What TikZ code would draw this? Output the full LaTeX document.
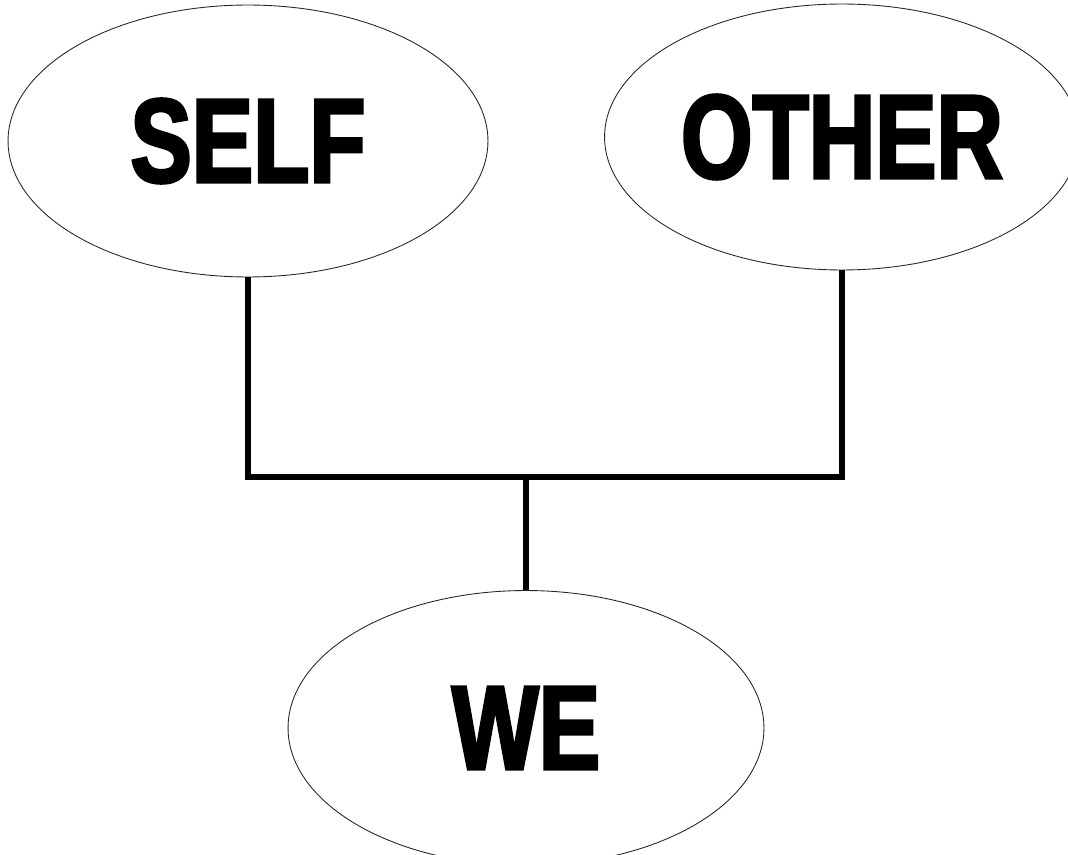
\documentclass[tikz,border=0pt]{standalone}
\usepackage{fontspec}
\newfontfamily\blockfont[FakeStretch=0.77, FakeBold=2.5]{Liberation Sans}
\usepackage{tikz}
\usetikzlibrary{shapes.geometric, positioning}

\tikzset{
  bubble/.style={draw=black!85, line width=0.5pt, ellipse, inner sep=0pt,
                 font=\blockfont\bfseries\fontsize{68}{68}\selectfont},
  link/.style={line width=2.9pt, black}
}

\begin{document}
\begin{tikzpicture}[x=0.02cm, y=-0.02cm]
\useasboundingbox (0,0) rectangle (1068,855);

% --- the two sources ---
\node[bubble, minimum width=9.6cm, minimum height=5.44cm] (self) at (248,141) {SELF};
\node[bubble, minimum width=9.5cm, minimum height=5.32cm] (other) at (842,137) {OTHER};

% --- the result ---
\node[bubble, minimum width=9.52cm, minimum height=5.5cm] (we) at (526,728) {WE};

% --- joining lines ---
\coordinate (fork) at (526,477);
\draw[link] (self.south) |- (fork) -| (other.south);
\draw[link] (fork) -- (we.north);

\end{tikzpicture}
\end{document}
